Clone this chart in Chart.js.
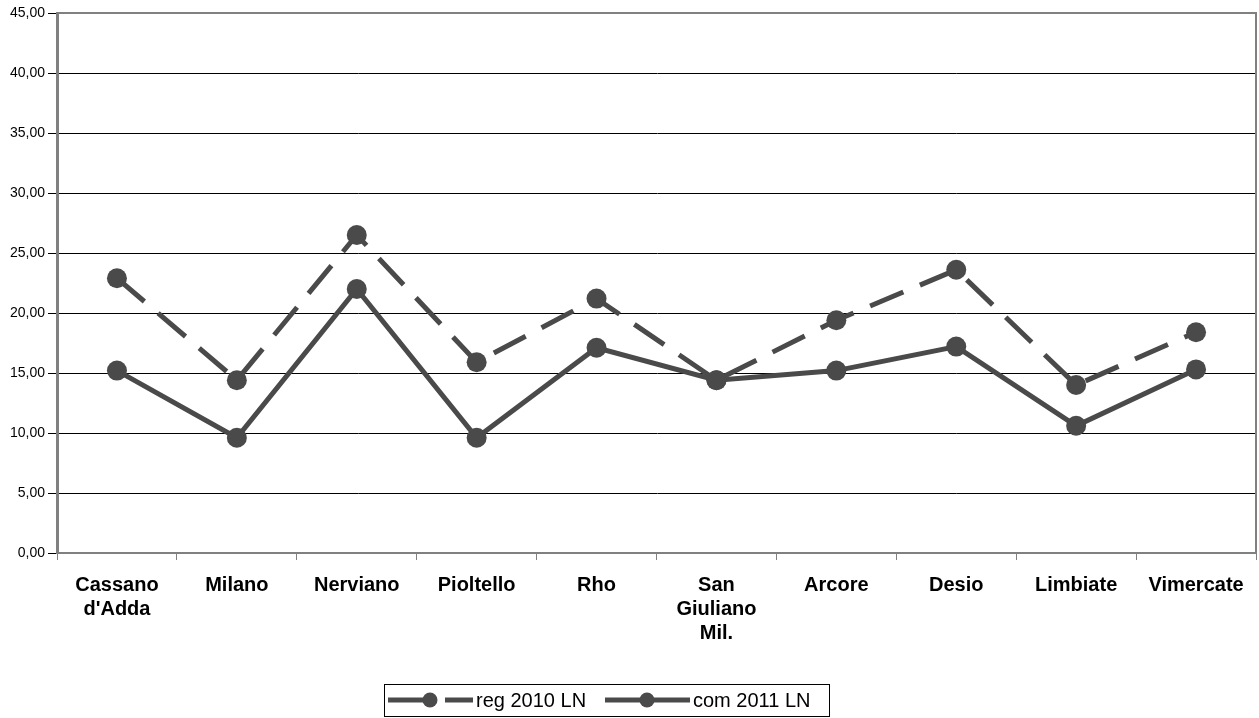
<!DOCTYPE html>
<html>
<head>
<meta charset="utf-8">
<script src="https://cdn.jsdelivr.net/npm/chart.js@4"></script>
<style>
  html, body { margin: 0; padding: 0; background: #fff; }
  #wrap { position: relative; width: 1259px; height: 718px; }
</style>
</head>
<body>
<div id="wrap"><canvas id="lineChart" width="1259" height="718"></canvas></div>
<script>
// Data
const categories = [
    ['Cassano', "d'Adda"], 'Milano', 'Nerviano', 'Pioltello', 'Rho',
    ['San', 'Giuliano', 'Mil.'], 'Arcore', 'Desio', 'Limbiate', 'Vimercate'
];
const reg2010 = [22.9, 14.4, 26.5, 15.9, 21.2, 14.4, 19.4, 23.6, 14.0, 18.4];
const com2011 = [15.2, 9.6, 22.0, 9.6, 17.1, 14.4, 15.2, 17.2, 10.6, 15.3];
const yTicks = [0, 5, 10, 15, 20, 25, 30, 35, 40, 45];

const seriesColor = '#4a4a4a';
const dashPattern = [36, 18];
const fontFamily = '"Liberation Sans", Arial, sans-serif';

// Draws the gray frame and the boxed legend at the bottom
const framePlugin = {
    id: 'frame',
    afterDraw(chart) {
        const ctx = chart.ctx;
        const a = chart.chartArea;
        ctx.save();
        ctx.strokeStyle = '#808080';
        ctx.lineWidth = 2;
        ctx.beginPath();
        ctx.moveTo(a.left, a.top);
        ctx.lineTo(a.right, a.top);
        ctx.lineTo(a.right, a.bottom);
        ctx.stroke();

        // legend
        const box = { x: 384, y: 684, w: 445, h: 32 };
        ctx.lineWidth = 1;
        ctx.strokeStyle = '#000';
        ctx.strokeRect(box.x + 0.5, box.y + 0.5, box.w, box.h);
        const cy = 700;
        const items = [
            { label: 'reg 2010 LN', x: 388, dash: true },
            { label: 'com 2011 LN', x: 605, dash: false }
        ];
        ctx.font = '20px ' + fontFamily;
        ctx.textBaseline = 'middle';
        items.forEach(it => {
            ctx.strokeStyle = seriesColor;
            ctx.fillStyle = seriesColor;
            ctx.lineWidth = 5;
            ctx.setLineDash(it.dash ? [49, 8] : []);
            ctx.beginPath();
            ctx.moveTo(it.x, cy);
            ctx.lineTo(it.x + 85, cy);
            ctx.stroke();
            ctx.setLineDash([]);
            ctx.beginPath();
            ctx.arc(it.x + 42, cy, 7.5, 0, Math.PI * 2);
            ctx.fill();
            ctx.fillStyle = '#000';
            ctx.fillText(it.label, it.x + 88, cy + 1);
        });
        ctx.restore();
    }
};

const chartConfig = {
    type: 'line',
    data: {
        labels: categories,
        datasets: [{
            label: 'reg 2010 LN',
            data: reg2010,
            borderColor: seriesColor,
            backgroundColor: seriesColor,
            borderWidth: 5,
            borderDash: dashPattern,
            pointRadius: 10,
            pointHoverRadius: 10,
            pointBorderWidth: 0,
            tension: 0
        }, {
            label: 'com 2011 LN',
            data: com2011,
            borderColor: seriesColor,
            backgroundColor: seriesColor,
            borderWidth: 5,
            pointRadius: 10,
            pointHoverRadius: 10,
            pointBorderWidth: 0,
            tension: 0
        }]
    },
    options: {
        responsive: false,
        animation: false,
        events: [],
        layout: { autoPadding: false, padding: { top: 13, right: 3, left: 0, bottom: 0 } },
        plugins: {
            legend: { display: false },
            tooltip: { enabled: false }
        },
        scales: {
            x: {
                offset: true,
                afterFit: scale => {
                    scale.height = 165;
                    scale.paddingLeft = 0;
                    scale.paddingRight = 0;
                },
                border: { color: '#808080', width: 2 },
                grid: {
                    offset: true,
                    drawOnChartArea: false,
                    color: '#808080',
                    tickLength: 7
                },
                ticks: {
                    color: '#000',
                    maxRotation: 0,
                    autoSkip: false,
                    padding: 13,
                    font: { family: fontFamily, size: 20, weight: 'bold', lineHeight: 1.2 }
                }
            },
            y: {
                min: 0,
                max: 45,
                afterFit: scale => { scale.width = 57; },
                afterBuildTicks: scale => { scale.ticks = yTicks.map(v => ({ value: v })); },
                border: { color: '#808080', width: 3 },
                grid: {
                    color: '#000',
                    lineWidth: 1,
                    tickLength: 9
                },
                ticks: {
                    color: '#000',
                    padding: 3,
                    font: { family: fontFamily, size: 14 },
                    callback: value => value.toFixed(2).replace('.', ',')
                }
            }
        }
    },
    plugins: [framePlugin]
};

const lineChart = new Chart(document.getElementById('lineChart'), chartConfig);
</script>
</body>
</html>
